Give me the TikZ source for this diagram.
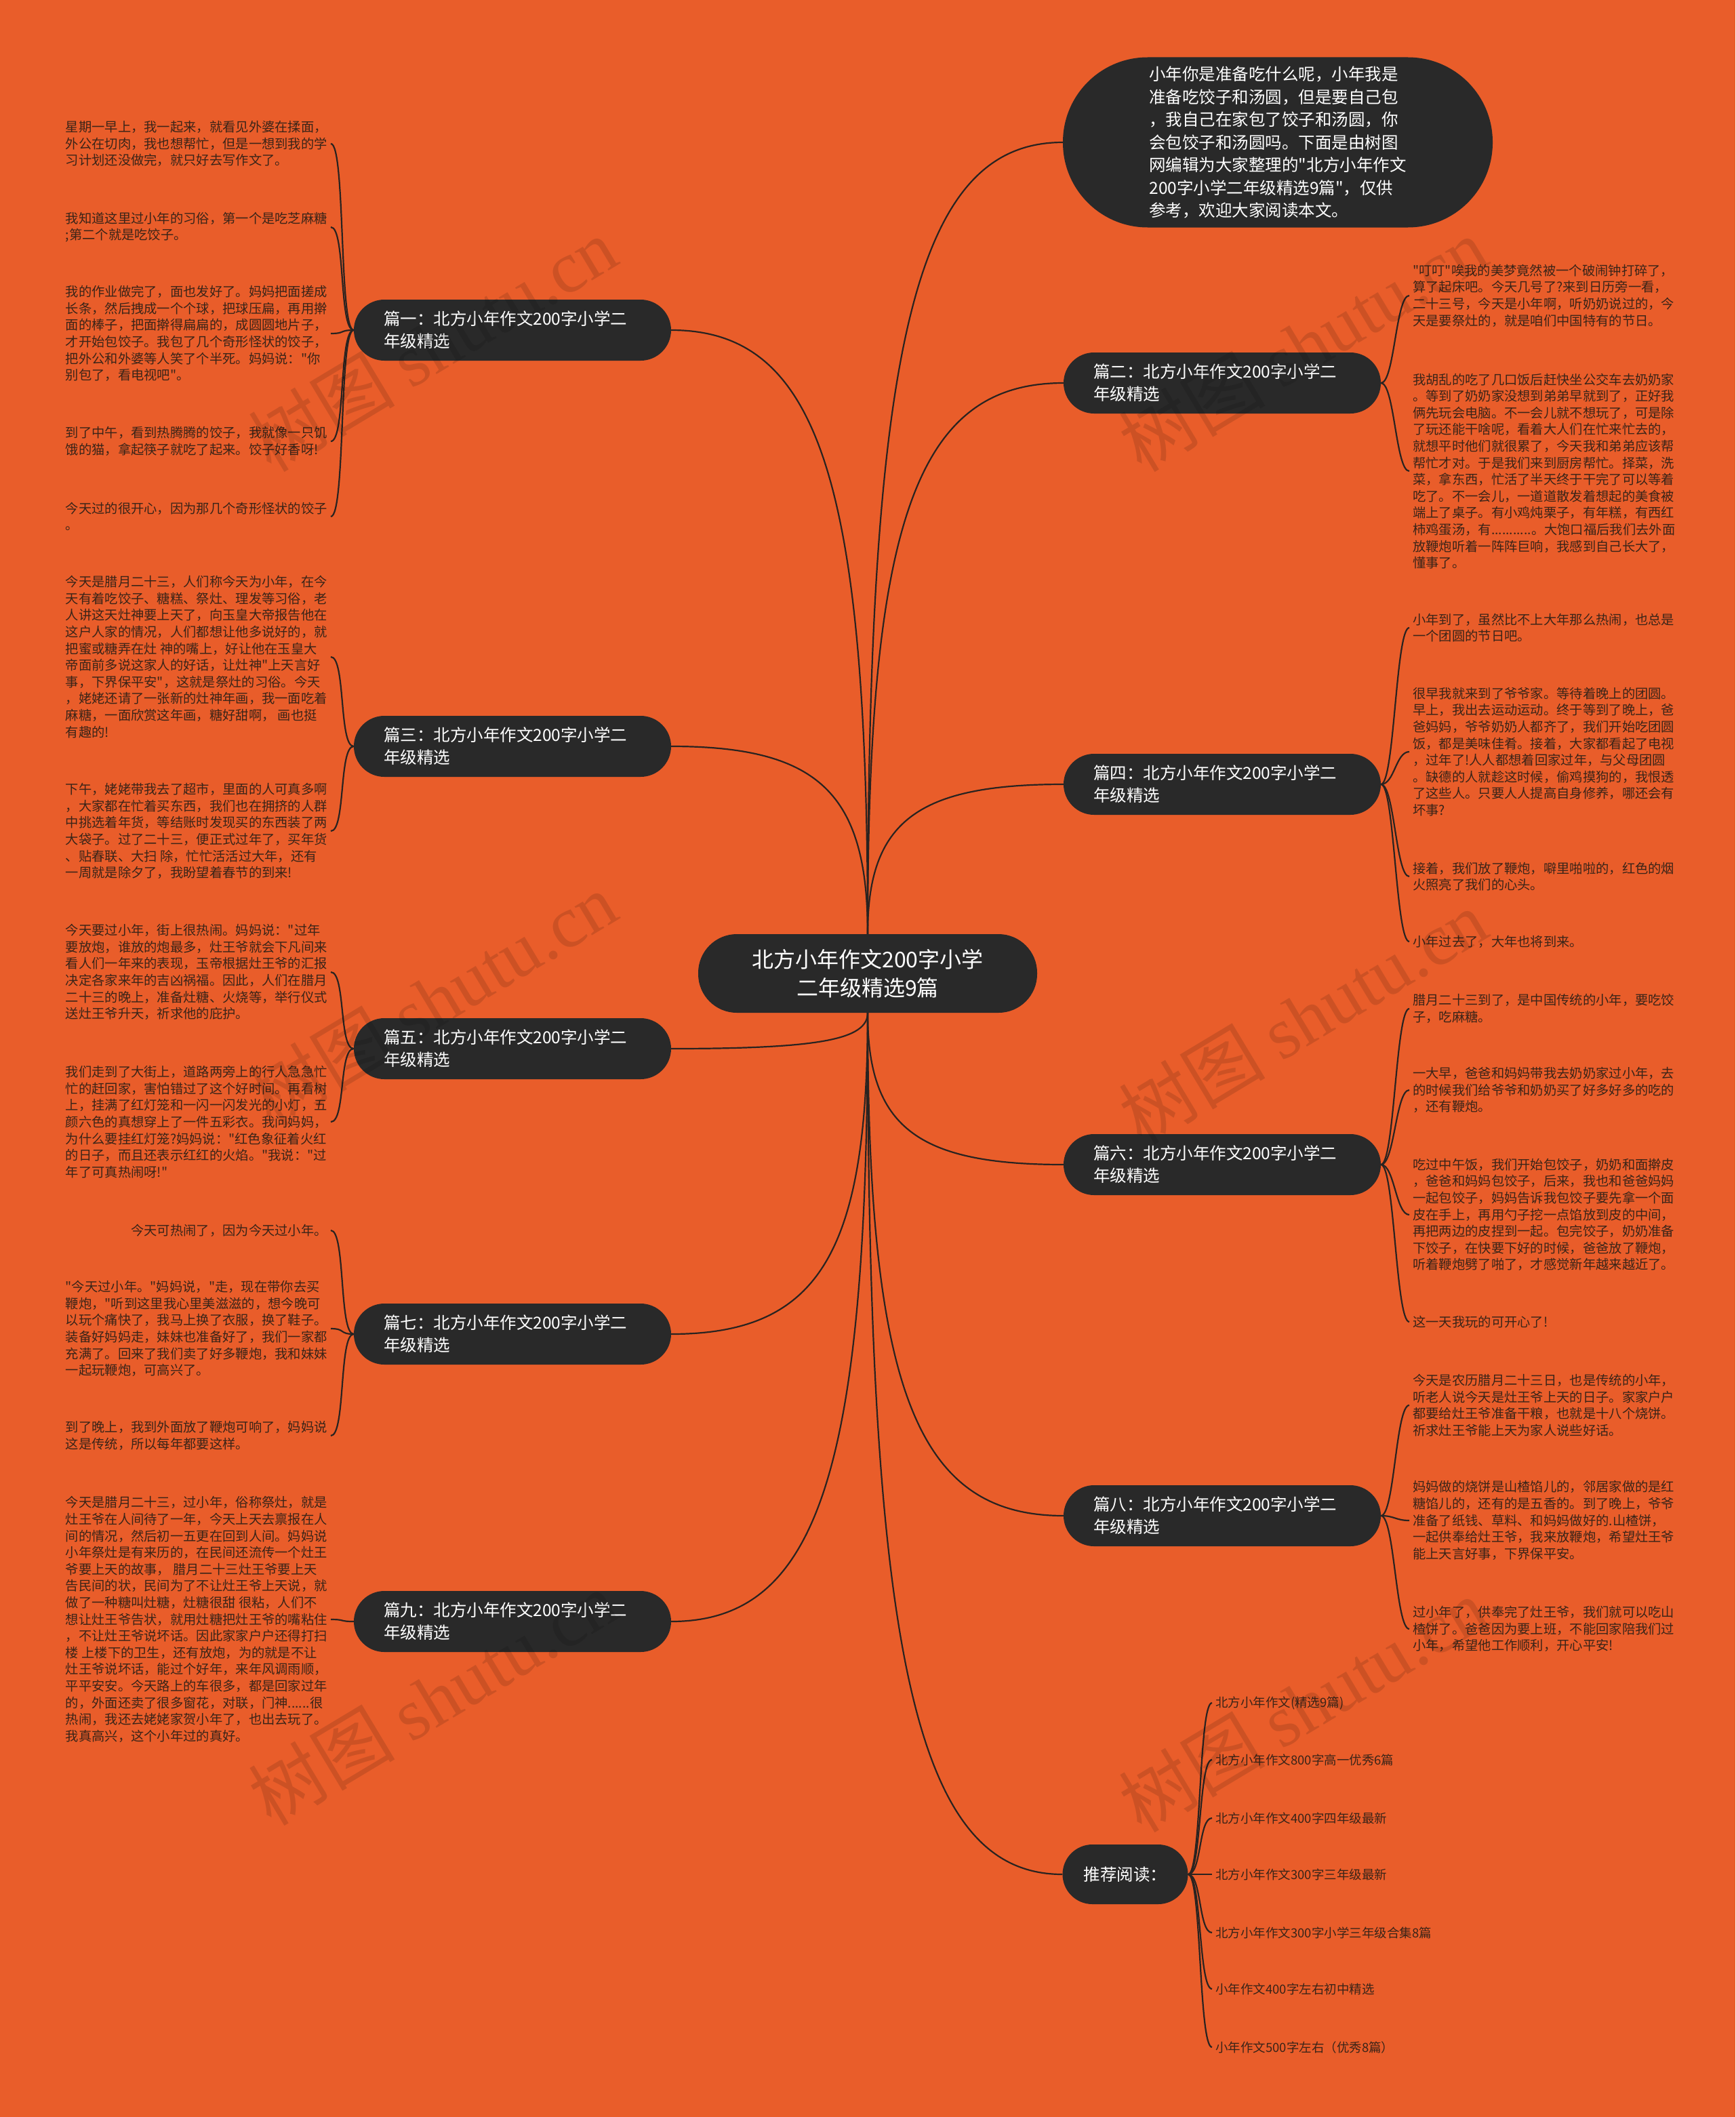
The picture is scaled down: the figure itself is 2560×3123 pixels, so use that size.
\documentclass[tikz,border=0pt]{standalone}
\usepackage{fontspec}
\newfontfamily\cjkf{Noto Sans CJK SC}
\newfontfamily\wmserif{Liberation Serif}
\usetikzlibrary{calc}
\definecolor{bgor}{HTML}{E95D2A}
\definecolor{nodedark}{HTML}{292929}
\definecolor{linedark}{HTML}{2A2320}
\definecolor{leaftext}{HTML}{3A2418}
\begin{document}
\begin{tikzpicture}[x=1pt,y=-1pt,
  link/.style={draw=linedark, line width=2.2pt},
  branch/.style={fill=nodedark, text=white, rounded corners=45pt, minimum height=90pt,
    text width=380pt, inner xsep=44pt, inner ysep=0pt, align=left,
    font=\cjkf\fontsize{24.5}{33}\selectfont},
  leafL/.style={anchor=east, align=left, text=leaftext, inner xsep=5pt, inner ysep=0pt,
    font=\cjkf\fontsize{19.3}{24.6}\selectfont},
  leafR/.style={leafL, anchor=west},
  recitem/.style={anchor=west, text=leaftext, inner xsep=5pt, inner ysep=0pt,
    font=\cjkf\fontsize{18.5}{24}\selectfont},
  wmark/.style={rotate=31, text=black, opacity=0.12, inner sep=0pt,
    font=\cjkf\fontsize{108}{112}\selectfont}
]
\useasboundingbox (0,0) rectangle (2560,3123);
\fill[bgor] (0,0) rectangle (2560,3123);

% centre
\node[fill=nodedark, text=white, rounded corners=57pt, minimum width=500pt, minimum height=116pt,
  align=center, inner sep=0pt, font=\cjkf\fontsize{32}{42}\selectfont] (ctr) at (1280,1436)
  {北方小年作文200字小学\\二年级精选9篇};

% intro
\node[fill=nodedark, text=white, rounded corners=125pt, minimum width=634pt, minimum height=251pt,
  align=left, inner sep=0pt, font=\cjkf\fontsize{24.5}{33.5}\selectfont] (intro) at (1885,210)
  {小年你是准备吃什么呢，小年我是\\准备吃饺子和汤圆，但是要自己包\\，我自己在家包了饺子和汤圆，你\\会包饺子和汤圆吗。下面是由树图\\网编辑为大家整理的"北方小年作文\\200字小学二年级精选9篇"，仅供\\参考，欢迎大家阅读本文。};

% branches
\node[branch] (b1) at (756,487) {篇一：北方小年作文200字小学二\\年级精选};
\node[branch] (b3) at (756,1101) {篇三：北方小年作文200字小学二\\年级精选};
\node[branch] (b5) at (756,1547) {篇五：北方小年作文200字小学二\\年级精选};
\node[branch] (b7) at (756,1968) {篇七：北方小年作文200字小学二\\年级精选};
\node[branch] (b9) at (756,2392) {篇九：北方小年作文200字小学二\\年级精选};
\node[branch] (b2) at (1803,565) {篇二：北方小年作文200字小学二\\年级精选};
\node[branch] (b4) at (1803,1157) {篇四：北方小年作文200字小学二\\年级精选};
\node[branch] (b6) at (1803,1718) {篇六：北方小年作文200字小学二\\年级精选};
\node[branch] (b8) at (1803,2236) {篇八：北方小年作文200字小学二\\年级精选};
\node[fill=nodedark, text=white, rounded corners=44pt, minimum width=185pt, minimum height=88pt,
  inner sep=0pt, font=\cjkf\fontsize{24.5}{33}\selectfont] (rec) at (1660,2765) {推荐阅读：};

% left leaves
\node[leafL] (l1a) at (488,212) {星期一早上，我一起来，就看见外婆在揉面，\\外公在切肉，我也想帮忙，但是一想到我的学\\习计划还没做完，就只好去写作文了。};
\node[leafL] (l1b) at (488,335) {我知道这里过小年的习俗，第一个是吃芝麻糖\\;第二个就是吃饺子。};
\node[leafL] (l1c) at (488,492) {我的作业做完了，面也发好了。妈妈把面搓成\\长条，然后拽成一个个球，把球压扁，再用擀\\面的棒子，把面擀得扁扁的，成圆圆地片子，\\才开始包饺子。我包了几个奇形怪状的饺子，\\把外公和外婆等人笑了个半死。妈妈说："你\\别包了，看电视吧"。};
\node[leafL] (l1d) at (488,651) {到了中午，看到热腾腾的饺子，我就像一只饥\\饿的猫，拿起筷子就吃了起来。饺子好香呀!};
\node[leafL] (l1e) at (488,762) {今天过的很开心，因为那几个奇形怪状的饺子\\。};

\node[leafL] (l3a) at (488,969) {今天是腊月二十三，人们称今天为小年，在今\\天有着吃饺子、糖糕、祭灶、理发等习俗，老\\人讲这天灶神要上天了，向玉皇大帝报告他在\\这户人家的情况，人们都想让他多说好的，就\\把蜜或糖弄在灶 神的嘴上，好让他在玉皇大\\帝面前多说这家人的好话，让灶神"上天言好\\事，下界保平安"，这就是祭灶的习俗。今天\\，姥姥还请了一张新的灶神年画，我一面吃着\\麻糖，一面欣赏这年画，糖好甜啊， 画也挺\\有趣的!};
\node[leafL] (l3b) at (488,1226) {下午，姥姥带我去了超市，里面的人可真多啊\\，大家都在忙着买东西，我们也在拥挤的人群\\中挑选着年货，等结账时发现买的东西装了两\\大袋子。过了二十三，便正式过年了，买年货\\、贴春联、大扫 除，忙忙活活过大年，还有\\一周就是除夕了，我盼望着春节的到来!};

\node[leafL] (l5a) at (488,1434) {今天要过小年，街上很热闹。妈妈说："过年\\要放炮，谁放的炮最多，灶王爷就会下凡间来\\看人们一年来的表现，玉帝根据灶王爷的汇报\\决定各家来年的吉凶祸福。因此，人们在腊月\\二十三的晚上，准备灶糖、火烧等，举行仪式\\送灶王爷升天，祈求他的庇护。};
\node[leafL] (l5b) at (488,1655) {我们走到了大街上，道路两旁上的行人急急忙\\忙的赶回家，害怕错过了这个好时间。再看树\\上，挂满了红灯笼和一闪一闪发光的小灯，五\\颜六色的真想穿上了一件五彩衣。我问妈妈，\\为什么要挂红灯笼?妈妈说："红色象征着火红\\的日子，而且还表示红红的火焰。"我说："过\\年了可真热闹呀!"};

\node[leafL] (l7a) at (488,1815) {今天可热闹了，因为今天过小年。};
\node[leafL] (l7b) at (488,1960) {"今天过小年。"妈妈说，"走，现在带你去买\\鞭炮，"听到这里我心里美滋滋的，想今晚可\\以玩个痛快了，我马上换了衣服，换了鞋子。\\装备好妈妈走，妹妹也准备好了，我们一家都\\充满了。回来了我们卖了好多鞭炮，我和妹妹\\一起玩鞭炮，可高兴了。};
\node[leafL] (l7c) at (488,2118) {到了晚上，我到外面放了鞭炮可响了，妈妈说\\这是传统，所以每年都要这样。};

\node[leafL] (l9a) at (488,2389) {今天是腊月二十三，过小年，俗称祭灶，就是\\灶王爷在人间待了一年，今天上天去禀报在人\\间的情况，然后初一五更在回到人间。妈妈说\\小年祭灶是有来历的，在民间还流传一个灶王\\爷要上天的故事， 腊月二十三灶王爷要上天\\告民间的状，民间为了不让灶王爷上天说，就\\做了一种糖叫灶糖，灶糖很甜 很粘，人们不\\想让灶王爷告状，就用灶糖把灶王爷的嘴粘住\\，不让灶王爷说坏话。因此家家户户还得打扫\\楼 上楼下的卫生，还有放炮，为的就是不让\\灶王爷说坏话，能过个好年，来年风调雨顺，\\平平安安。今天路上的车很多，都是回家过年\\的，外面还卖了很多窗花，对联，门神......很\\热闹，我还去姥姥家贺小年了，也出去玩了。\\我真高兴，这个小年过的真好。};

% right leaves
\node[leafR] (r2a) at (2079,436) {"叮叮"唉我的美梦竟然被一个破闹钟打碎了，\\算了起床吧。今天几号了?来到日历旁一看，\\二十三号，今天是小年啊，听奶奶说过的，今\\天是要祭灶的，就是咱们中国特有的节日。};
\node[leafR] (r2b) at (2079,695) {我胡乱的吃了几口饭后赶快坐公交车去奶奶家\\。等到了奶奶家没想到弟弟早就到了，正好我\\俩先玩会电脑。不一会儿就不想玩了，可是除\\了玩还能干啥呢，看着大人们在忙来忙去的，\\就想平时他们就很累了，今天我和弟弟应该帮\\帮忙才对。于是我们来到厨房帮忙。择菜，洗\\菜，拿东西，忙活了半天终于干完了可以等着\\吃了。不一会儿，一道道散发着想起的美食被\\端上了桌子。有小鸡炖栗子，有年糕，有西红\\柿鸡蛋汤，有...........。大饱口福后我们去外面\\放鞭炮听着一阵阵巨响，我感到自己长大了，\\懂事了。};

\node[leafR] (r4a) at (2079,926) {小年到了，虽然比不上大年那么热闹，也总是\\一个团圆的节日吧。};
\node[leafR] (r4b) at (2079,1109) {很早我就来到了爷爷家。等待着晚上的团圆。\\早上，我出去运动运动。终于等到了晚上，爸\\爸妈妈，爷爷奶奶人都齐了，我们开始吃团圆\\饭，都是美味佳肴。接着，大家都看起了电视\\，过年了!人人都想着回家过年，与父母团圆\\。缺德的人就趁这时候，偷鸡摸狗的，我恨透\\了这些人。只要人人提高自身修养，哪还会有\\坏事?};
\node[leafR] (r4c) at (2079,1293) {接着，我们放了鞭炮，噼里啪啦的，红色的烟\\火照亮了我们的心头。};
\node[leafR] (r4d) at (2079,1389) {小年过去了，大年也将到来。};

\node[leafR] (r6a) at (2079,1488) {腊月二十三到了，是中国传统的小年，要吃饺\\子，吃麻糖。};
\node[leafR] (r6b) at (2079,1608) {一大早，爸爸和妈妈带我去奶奶家过小年，去\\的时候我们给爷爷和奶奶买了好多好多的吃的\\，还有鞭炮。};
\node[leafR] (r6c) at (2079,1792) {吃过中午饭，我们开始包饺子，奶奶和面擀皮\\，爸爸和妈妈包饺子，后来，我也和爸爸妈妈\\一起包饺子，妈妈告诉我包饺子要先拿一个面\\皮在手上，再用勺子挖一点馅放到皮的中间，\\再把两边的皮捏到一起。包完饺子，奶奶准备\\下饺子，在快要下好的时候，爸爸放了鞭炮，\\听着鞭炮劈了啪了，才感觉新年越来越近了。};
\node[leafR] (r6d) at (2079,1950) {这一天我玩的可开心了!};

\node[leafR] (r8a) at (2079,2073) {今天是农历腊月二十三日，也是传统的小年，\\听老人说今天是灶王爷上天的日子。家家户户\\都要给灶王爷准备干粮，也就是十八个烧饼。\\祈求灶王爷能上天为家人说些好话。};
\node[leafR] (r8b) at (2079,2243) {妈妈做的烧饼是山楂馅儿的，邻居家做的是红\\糖馅儿的，还有的是五香的。到了晚上，爷爷\\准备了纸钱、草料、和妈妈做好的.山楂饼，\\一起供奉给灶王爷，我来放鞭炮，希望灶王爷\\能上天言好事，下界保平安。};
\node[leafR] (r8c) at (2079,2403) {过小年了，供奉完了灶王爷，我们就可以吃山\\楂饼了。爸爸因为要上班，不能回家陪我们过\\小年，希望他工作顺利，开心平安!};

% recommended
\node[recitem] (k1) at (1788,2512) {北方小年作文(精选9篇)};
\node[recitem] (k2) at (1788,2596) {北方小年作文800字高一优秀6篇};
\node[recitem] (k3) at (1788,2682) {北方小年作文400字四年级最新};
\node[recitem] (k4) at (1788,2765) {北方小年作文300字三年级最新};
\node[recitem] (k5) at (1788,2851) {北方小年作文300字小学三年级合集8篇};
\node[recitem] (k6) at (1788,2934) {小年作文400字左右初中精选};
\node[recitem] (k7) at (1788,3020) {小年作文500字左右（优秀8篇）};

% centre connectors
\foreach \b/\s in {b1/north,b3/north,b5/south,b7/south,b9/south}{
  \coordinate (kk) at (ctr.\s|-\b.east);
  \draw[link] (ctr.\s) .. controls ($(ctr.\s)!0.75!(kk)$) and ($(\b.east)!0.75!(kk)$) .. (\b.east);
}
\foreach \b/\s in {intro/north,b2/north,b4/north,b6/south,b8/south,rec/south}{
  \coordinate (kk) at (ctr.\s|-\b.west);
  \draw[link] (ctr.\s) .. controls ($(ctr.\s)!0.75!(kk)$) and ($(\b.west)!0.75!(kk)$) .. (\b.west);
}

% leaf connectors
\foreach \b/\l in {b1/l1a,b1/l1b,b1/l1c,b1/l1d,b1/l1e,b3/l3a,b3/l3b,b5/l5a,b5/l5b,b7/l7a,b7/l7b,b7/l7c,b9/l9a}{
  \draw[link] (\b.west) .. controls +(-22,0) and +(22,0) .. (\l.east);
}
\foreach \b/\l in {b2/r2a,b2/r2b,b4/r4a,b4/r4b,b4/r4c,b4/r4d,b6/r6a,b6/r6b,b6/r6c,b6/r6d,b8/r8a,b8/r8b,b8/r8c,rec/k1,rec/k2,rec/k3,rec/k4,rec/k5,rec/k6,rec/k7}{
  \draw[link] (\b.east) .. controls +(20,0) and +(-20,0) .. (\l.west);
}

% watermarks
\node[wmark] (w1) at (638,508) {树图 {\wmserif shutu.cn}};
\node[wmark] (w2) at (1922,508) {树图 {\wmserif shutu.cn}};
\node[wmark] (w3) at (638,1474) {树图 {\wmserif shutu.cn}};
\node[wmark] (w4) at (1922,1500) {树图 {\wmserif shutu.cn}};
\node[wmark] (w5) at (638,2505) {树图 {\wmserif shutu.cn}};
\node[wmark] (w6) at (1922,2515) {树图 {\wmserif shutu.cn}};
\end{tikzpicture}
\end{document}
